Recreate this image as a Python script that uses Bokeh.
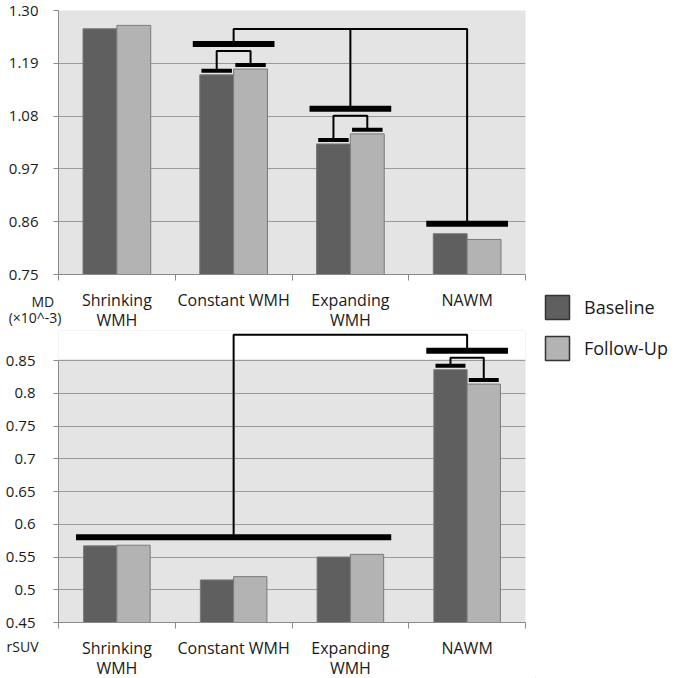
from bokeh.plotting import figure
from bokeh.layouts import column, row
from bokeh.models import (FactorRange, Range1d, FixedTicker, LinearAxis,
                          Legend, LegendItem, BoxAnnotation, ColumnDataSource)
from bokeh.transform import dodge
from bokeh.embed import file_html
from bokeh.resources import INLINE

# ---------------- data ----------------
categories = ["Shrinking WMH", "Constant WMH", "Expanding WMH", "NAWM"]
category_labels = ["Shrinking\nWMH", "Constant WMH", "Expanding\nWMH", "NAWM"]
series = ["Baseline", "Follow-Up"]

md_baseline = [1.262, 1.166, 1.022, 0.835]
md_followup = [1.269, 1.178, 1.043, 0.823]
md_ticks = [0.75, 0.86, 0.97, 1.08, 1.19, 1.30]
md_tick_labels = ["0.75", "0.86", "0.97", "1.08", "1.19", "1.30"]
md_label = "MD\u00a0\u00a0\n(×10^-3)"

rsuv_baseline = [0.567, 0.515, 0.550, 0.836]
rsuv_followup = [0.568, 0.520, 0.554, 0.814]
rsuv_ticks = [0.45, 0.50, 0.55, 0.60, 0.65, 0.70, 0.75, 0.80, 0.85]
rsuv_tick_labels = ["0.45", "0.5", "0.55", "0.6", "0.65", "0.7", "0.75", "0.8", "0.85"]
rsuv_label = "rSUV"

# significance: baseline vs follow-up within a category, and groups joined by the top bracket
md_pairwise = ["Constant WMH", "Expanding WMH"]
md_groups = [["Constant WMH"], ["Expanding WMH"], ["NAWM"]]
rsuv_pairwise = ["NAWM"]
rsuv_groups = [["Shrinking WMH", "Constant WMH", "Expanding WMH"], ["NAWM"]]

# ---------------- style ----------------
DARK = "#5f5f5f"
LIGHT = "#b3b3b3"
EDGE = "#7a7a7a"
BG = "#e4e4e4"
GRID = "#9a9a9a"
AXIS = "#8a8a8a"
TEXT = "#1a1a1a"
FONT = "Open Sans"
LEFT = 58
FRAME_W = 467
RIGHT = 10
BELOW = 14


def make_chart(base, follow, ticks, tick_labels, extra_px, span_px, top, label_std, bar_w,
               pairwise, groups, gaps):
    y0, data_top = ticks[0], ticks[-1]
    px = (data_top - y0) / span_px  # data units per pixel
    y_end = data_top + extra_px * px
    n = len(categories)
    p = figure(x_range=FactorRange(*categories, range_padding=0, factor_padding=0),
               y_range=Range1d(y0, y_end), frame_width=FRAME_W, frame_height=span_px + extra_px,
               min_border_left=LEFT, min_border_right=RIGHT, min_border_top=top,
               min_border_bottom=BELOW, x_axis_type=None, output_backend="svg",
               toolbar_location=None, background_fill_color=BG, border_fill_color="white",
               outline_line_color=None)
    if extra_px > 0:
        p.add_layout(BoxAnnotation(bottom=data_top + 1.2 * px, fill_color="white", fill_alpha=1,
                                   line_color=None, level="underlay"))

    ax = p.yaxis[0]
    ax.ticker = FixedTicker(ticks=ticks)
    ax.major_label_overrides = {t: l for t, l in zip(ticks, tick_labels)}
    ax.bounds = (y0, data_top)
    ax.axis_line_color = AXIS
    ax.major_tick_line_color = AXIS
    ax.major_tick_out = 5
    ax.major_tick_in = 0
    ax.minor_tick_line_color = None
    ax.major_label_standoff = label_std
    ax.major_label_text_font = FONT
    ax.major_label_text_font_size = "15px"
    ax.major_label_text_color = TEXT
    p.ygrid.grid_line_color = GRID

    # x axis line with short ticks on the category boundaries
    tick_axis = LinearAxis(ticker=FixedTicker(ticks=list(range(n + 1))),
                           axis_line_color=AXIS, major_tick_line_color=AXIS, major_tick_out=6,
                           major_tick_in=0, minor_tick_line_color=None,
                           major_label_text_font_size="0px", major_label_standoff=0)
    p.add_layout(tick_axis, "below")

    src = ColumnDataSource(dict(cat=categories, base=base, follow=follow))
    p.vbar(x=dodge("cat", -bar_w / 2, range=p.x_range), top="base", bottom=y0, width=bar_w,
           source=src, fill_color=DARK, line_color=EDGE, line_width=1)
    p.vbar(x=dodge("cat", bar_w / 2, range=p.x_range), top="follow", bottom=y0, width=bar_w,
           source=src, fill_color=LIGHT, line_color=EDGE, line_width=1)

    # significance brackets derived from the bar values
    center = {c: i + 0.5 for i, c in enumerate(categories)}
    vals = {c: (b, f) for c, b, f in zip(categories, base, follow)}
    sw = bar_w * 0.45
    small = dict(x0=[], x1=[], y=[])
    br = dict(xs=[], ys=[])
    big_level = {}
    for c in pairwise:
        b, f = vals[c]
        xb, xf = center[c] - bar_w / 2, center[c] + bar_w / 2
        yb, yf = b + gaps["small"] * px, f + gaps["small"] * px
        small["x0"] += [xb - sw, xf - sw]
        small["x1"] += [xb + sw, xf + sw]
        small["y"] += [yb, yf]
        t = max(yb, yf) + gaps["pair"] * px
        br["xs"].append([xb, xb, xf, xf])
        br["ys"].append([yb, t, t, yf])
        big_level[c] = t + gaps["over_pair"] * px
    big = dict(x0=[], x1=[], y=[])
    mids = []
    for g in groups:
        lv = max(big_level.get(c, max(vals[c]) + gaps["big"] * px) for c in g)
        lo = min(center[c] for c in g) - 0.35
        hi = max(center[c] for c in g) + 0.35
        big["x0"].append(lo)
        big["x1"].append(hi)
        big["y"].append(lv)
        mids.append(((lo + hi) / 2, lv))
    link = max(m[1] for m in mids) + gaps["link"] * px
    br["xs"].append([mids[0][0], mids[0][0], mids[-1][0], mids[-1][0]])
    br["ys"].append([mids[0][1], link, link, mids[-1][1]])
    for mx, my in mids[1:-1]:
        br["xs"].append([mx, mx])
        br["ys"].append([link, my])

    p.multi_line(xs="xs", ys="ys", source=ColumnDataSource(br), line_color="black", line_width=2)
    p.segment(x0="x0", x1="x1", y0="y", y1="y", source=ColumnDataSource(small),
              line_color="black", line_width=4)
    p.segment(x0="x0", x1="x1", y0="y", y1="y", source=ColumnDataSource(big),
              line_color="black", line_width=6)
    return p


def make_strip(height, ylab, ylab_center, ylab_size, ylab_std, ylab_lh):
    """Category labels under a chart (same category scale) and the unit label at the left."""
    n = len(categories)
    s = figure(x_range=Range1d(0, n), y_range=Range1d(-height, 0),
               frame_width=FRAME_W, frame_height=height, min_border_left=LEFT,
               min_border_right=RIGHT, min_border_top=0, min_border_bottom=0,
               x_axis_type=None, output_backend="svg", toolbar_location=None,
               background_fill_color="white", border_fill_color="white",
               outline_line_color=None)
    s.grid.visible = False
    centers = [i + 0.5 for i in range(n)]
    lab_axis = LinearAxis(fixed_location=0, ticker=FixedTicker(ticks=centers),
                          axis_line_color=None, major_tick_line_color=None, major_tick_out=0,
                          major_tick_in=0, minor_tick_line_color=None,
                          major_label_standoff=0, major_label_text_font=FONT,
                          major_label_text_font_size="16px", major_label_text_color=TEXT,
                          major_label_text_line_height=0.92)
    lab_axis.major_label_overrides = dict(zip(centers, category_labels))
    s.add_layout(lab_axis, "below")
    ya = s.yaxis[0]
    ya.ticker = FixedTicker(ticks=[-ylab_center])
    ya.major_label_overrides = {-ylab_center: ylab}
    ya.axis_line_color = None
    ya.major_tick_line_color = None
    ya.minor_tick_line_color = None
    ya.major_tick_out = 0
    ya.major_tick_in = 0
    ya.major_label_standoff = ylab_std
    ya.major_label_text_font = FONT
    ya.major_label_text_font_size = ylab_size
    ya.major_label_text_color = TEXT
    ya.major_label_text_line_height = ylab_lh
    return s


top = make_chart(md_baseline, md_followup, md_ticks, md_tick_labels, 0, 264, 10, 15, 0.29,
                 md_pairwise, md_groups,
                 dict(small=4, pair=14, over_pair=7, big=10, link=15))
top_strip = make_strip(42, md_label, 21, "14px", -3, 0.88)

bottom = make_chart(rsuv_baseline, rsuv_followup, rsuv_ticks, rsuv_tick_labels, 30, 262, 0,
                    18, 0.285, rsuv_pairwise, rsuv_groups,
                    dict(small=4, pair=8, over_pair=7, big=8, link=16))
bottom_strip = make_strip(42, rsuv_label, 10, "14px", 20, 1.0)

# legend panel
LEG_H = 678
lf = figure(width=140, height=LEG_H, x_axis_location=None, y_axis_location=None,
            x_range=Range1d(0, 1), y_range=Range1d(0, 1),
            toolbar_location=None, output_backend="svg", min_border=0,
            outline_line_color=None)
lf.grid.visible = False
items = []
for name, col in zip(series, [DARK, LIGHT]):
    r = lf.vbar(x=[-5], top=[-5], bottom=[-6], width=1, fill_color=col, line_color="#333333",
                line_width=1.5)
    items.append(LegendItem(label=name, renderers=[r]))
lf.add_layout(Legend(items=items, location=(7, LEG_H - 292 - 71), glyph_width=30,
                     glyph_height=30, label_text_font=FONT, label_text_font_size="18px",
                     label_text_color=TEXT, label_standoff=12, spacing=11, padding=0, margin=0,
                     border_line_color=None, background_fill_alpha=0))

layout = row(column(top, top_strip, bottom, bottom_strip), lf)
open("out.html", "w").write(file_html(layout, INLINE))
